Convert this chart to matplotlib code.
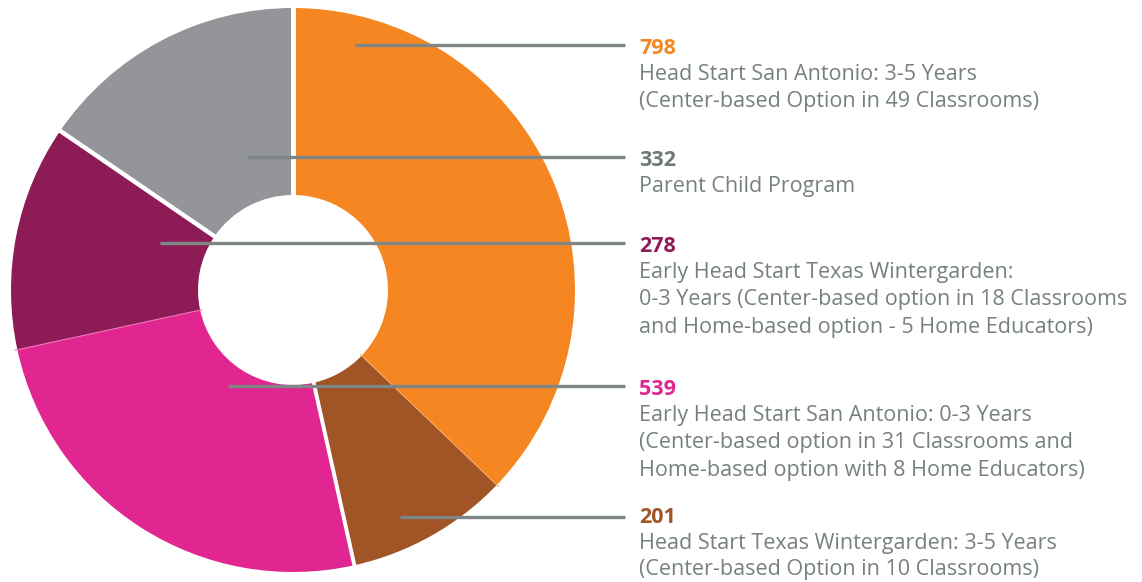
import numpy as np
import matplotlib
matplotlib.use("Agg")
import matplotlib.pyplot as plt

values = [798, 201, 539, 278, 332]
colors = ["#F58621", "#A15425", "#E22691", "#8C1B56", "#939598"]
number_colors = ["#F58621", "#A15425", "#E22691", "#8C1B56", "#6E7978"]
numbers = ["798", "201", "539", "278", "332"]
descriptions = [
    ["Head Start San Antonio: 3-5 Years", "(Center-based Option in 49 Classrooms)"],
    ["Head Start Texas Wintergarden: 3-5 Years", "(Center-based Option in 10 Classrooms)"],
    ["Early Head Start San Antonio: 0-3 Years", "(Center-based option in 31 Classrooms and",
     "Home-based option with 8 Home Educators)"],
    ["Early Head Start Texas Wintergarden:", "0-3 Years (Center-based option in 18 Classrooms",
     "and Home-based option - 5 Home Educators)"],
    ["Parent Child Program"],
]
# label layout (pixel coordinates)
label_y = [45, 517, 386, 243, 157]
text_shift = [0, -3, 0, 0, 0]
line_gap = [27.3, 25.8, 27.3, 27.3, 27.3]
line_start_x = [355, 400, 228, 160, 247]

W, H = 1142, 582
fig = plt.figure(figsize=(W / 100, H / 100), dpi=100)
ax = fig.add_axes([0, 0, 1, 1])

cx, cy, R, r_in = 293, 290, 282, 95
wedges, _ = ax.pie(values, colors=colors, startangle=-90, counterclock=True,
                   center=(cx, cy), radius=R,
                   wedgeprops=dict(width=R - r_in, linewidth=0))
ax.set_xlim(0, W)
ax.set_ylim(H, 0)
ax.set_aspect("equal")
ax.axis("off")

total = sum(values)
cum = np.cumsum([0] + values)
angles = -90 + 360 * cum / total
def boundary(i, color, lw):
    a = np.deg2rad(angles[i])
    xs = [cx + r_in * 0.98 * np.cos(a), cx + R * 1.01 * np.cos(a)]
    ys = [cy + r_in * 0.98 * np.sin(a), cy + R * 1.01 * np.sin(a)]
    ax.plot(xs, ys, color=color, lw=lw, solid_capstyle="butt", zorder=3)

boundary(0, "white", 3.6)
boundary(4, "white", 3.2)
boundary(2, "white", 2.8)
boundary(1, "#FBB06A", 0.7)
boundary(3, "#EE74B8", 0.8)

text_color = "#76817F"
font = "Open Sans"
for i in range(len(values)):
    y = label_y[i]
    ax.plot([line_start_x[i], 625], [y, y], color="#7F8786", lw=2.4,
            solid_capstyle="butt", zorder=4)
    ty = y + text_shift[i]
    ax.text(639, ty + 9, numbers[i], color=number_colors[i], fontsize=15.5,
            fontweight="bold", family=font, va="baseline", ha="left")
    for k, line in enumerate(descriptions[i]):
        ax.text(639, ty + 35 + line_gap[i] * k, line, color=text_color, fontsize=15.5,
                family=font, va="baseline", ha="left")

fig.savefig("out.png", dpi=100)
